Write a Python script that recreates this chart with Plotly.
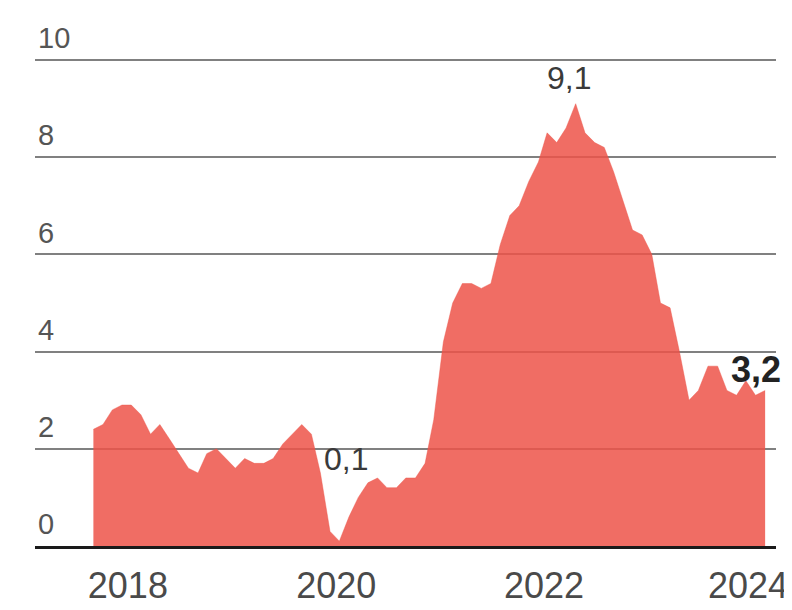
import plotly.graph_objects as go
import pandas as pd

# Monthly inflation rate (%), March 2018 - February 2024
months = pd.date_range("2018-03-01", "2024-02-01", freq="MS")
values = [
    2.4, 2.5, 2.8, 2.9, 2.9, 2.7, 2.3, 2.5, 2.2, 1.9,                  # 2018 (Mar-Dec)
    1.6, 1.5, 1.9, 2.0, 1.8, 1.6, 1.8, 1.7, 1.7, 1.8, 2.1, 2.3,        # 2019
    2.5, 2.3, 1.5, 0.3, 0.1, 0.6, 1.0, 1.3, 1.4, 1.2, 1.2, 1.4,        # 2020
    1.4, 1.7, 2.6, 4.2, 5.0, 5.4, 5.4, 5.3, 5.4, 6.2, 6.8, 7.0,        # 2021
    7.5, 7.9, 8.5, 8.3, 8.6, 9.1, 8.5, 8.3, 8.2, 7.7, 7.1, 6.5,        # 2022
    6.4, 6.0, 5.0, 4.9, 4.0, 3.0, 3.2, 3.7, 3.7, 3.2, 3.1, 3.4,        # 2023
    3.1, 3.2,                                                          # 2024 (Jan-Feb)
]

x_tick_vals = ["2018-06-20", "2020-04-21", "2022-02-19", "2023-12-08"]
x_tick_text = ["2018", "2020", "2022", "2024"]
y_tick_vals = [0, 2, 4, 6, 8, 10]
y_tick_text = ["0", "2", "4", "6", "8", "10"]

# Highlighted points: (date, value, label)
callouts = [
    ("2020-05-01", 0.1, "0,1"),
    ("2022-06-01", 9.1, "9,1"),
    ("2024-02-01", 3.2, "3,2"),
]

FONT = "Liberation Sans, Arial, sans-serif"

fig = go.Figure()
fig.add_trace(go.Scatter(
    x=months, y=values,
    mode="lines",
    line=dict(color="rgba(237,84,73,0.85)", width=0.5),
    fill="tozeroy",
    fillcolor="rgba(237,84,73,0.85)",
    hoverinfo="skip",
    showlegend=False,
))

# callout annotations
offsets = {"0,1": (7, 82, False), "9,1": (-7, 26, False), "3,2": (-9, 21, True)}
for d, v, lab in callouts:
    dx, dy, bold = offsets[lab]
    fig.add_annotation(
        x=d, y=v, text=f"<b>{lab}</b>" if bold else lab,
        showarrow=False, xshift=dx, yshift=dy,
        font=dict(family=FONT, size=36 if bold else 32,
                  color="#222222" if bold else "#3a3a3a"),
    )

fig.update_layout(
    width=792, height=610,
    margin=dict(l=27, r=12, t=50, b=60),
    paper_bgcolor="white", plot_bgcolor="white",
    font=dict(family=FONT),
    xaxis=dict(
        type="date",
        range=["2017-08-25", "2024-03-07"],
        tickvals=x_tick_vals, ticktext=x_tick_text,
        showgrid=False, zeroline=False,
        showline=True, linecolor="#1a1a1a", linewidth=3,
        ticks="", layer="above traces",
        tickfont=dict(family=FONT, size=36, color="#4a4a4a"),
        ticklabelstandoff=6,
    ),
    yaxis=dict(
        range=[0, 10.04],
        tickvals=y_tick_vals, ticktext=y_tick_text,
        showgrid=True, gridcolor="#808080", gridwidth=1.6,
        zeroline=False, showline=False, ticks="",
        ticklabelposition="inside", ticklabelshift=-22,
        ticklabeloverflow="allow",
        tickfont=dict(family=FONT, size=29, color="#555555"),
    ),
)

fig.write_html("out.html", config={"displayModeBar": False})
